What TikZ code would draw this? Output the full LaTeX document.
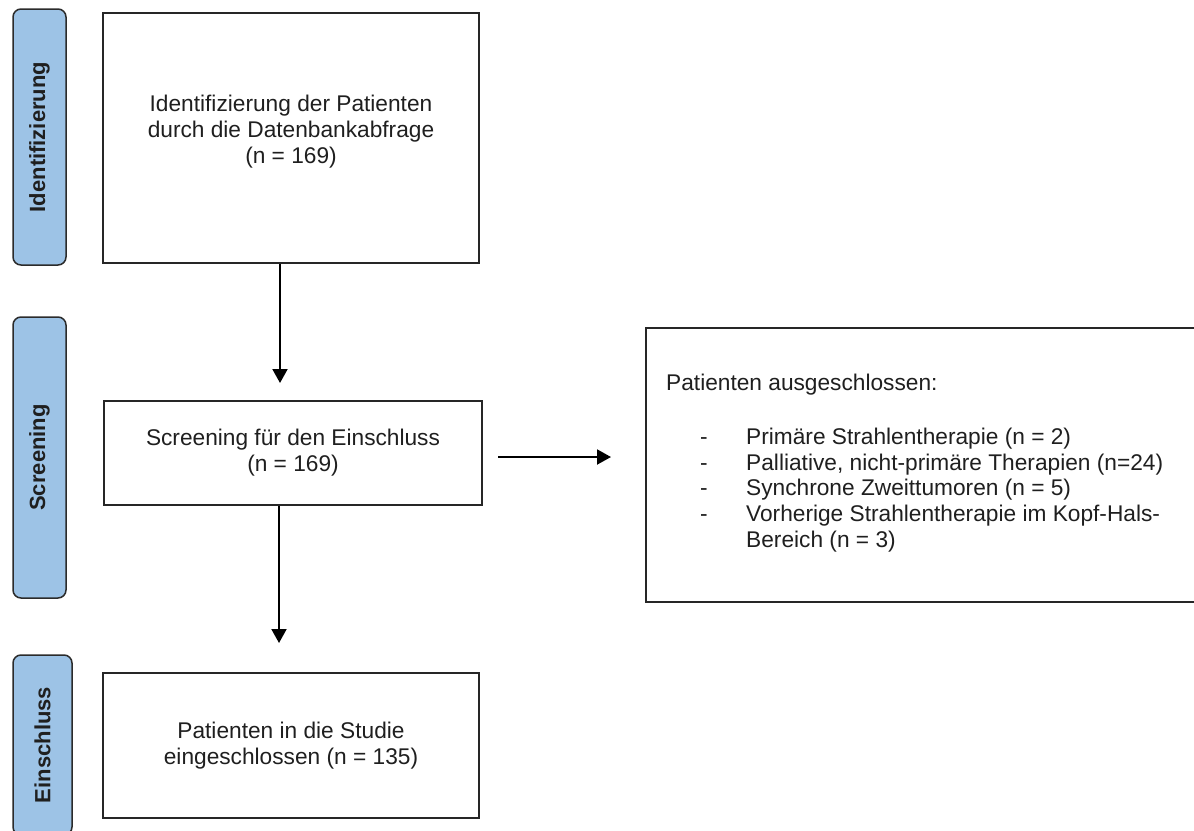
\documentclass[tikz,border=0pt]{standalone}
\usepackage{fontspec}
\setmainfont{Liberation Sans}
\usetikzlibrary{arrows.meta}
\definecolor{barfill}{HTML}{9DC3E6}
\definecolor{barline}{HTML}{2B2B2B}
\definecolor{boxline}{HTML}{262626}
\definecolor{txt}{HTML}{1F1F1F}
\begin{document}
\begin{tikzpicture}[x=1pt,y=-1pt,
  every node/.style={text=txt},
  mainfont/.style={font=\fontsize{22.7pt}{26pt}\selectfont},
  mainbox/.style={draw=boxline, line width=2pt, rectangle, inner sep=0pt, align=center, mainfont},
  sidebar/.style={draw=barline, fill=barfill, line width=1.5pt, rounded corners=8pt, inner sep=0pt,
    rotate=90, font=\fontsize{22pt}{26pt}\selectfont\bfseries},
  flow/.style={draw=black, line width=2pt, -{Triangle[length=14pt,width=15pt]}},
  itemtxt/.style={mainfont, inner sep=0pt, anchor=base west},
  dashtxt/.style={mainfont, inner sep=0pt, anchor=base},
]
\useasboundingbox (0,0) rectangle (1194,830);
\clip (0,0) rectangle (1194,830);

% side bars
\node[sidebar, minimum width=256pt, minimum height=53pt] (s1) at (39.5,137) {Identifizierung};
\node[sidebar, minimum width=281pt, minimum height=53pt] (s2) at (39.5,457.5) {Screening};
\node[sidebar, minimum width=180pt, minimum height=59pt] (s3) at (42.5,745) {Einschluss};

% main boxes
\node[mainbox, minimum width=376pt, minimum height=250pt] (b1) at (291,138) {};
\node[mainfont, align=center, inner sep=0pt] (b1t) at (291,132)
  {Identifizierung der Patienten\\durch die Datenbankabfrage\\(n = 169)};
\node[mainbox, minimum width=378pt, minimum height=104pt] (b2) at (293,453)
  {Screening für den Einschluss\\(n = 169)};
\node[mainbox, minimum width=376pt, minimum height=145pt] (b3) at (291,745.5)
  {Patienten in die Studie\\eingeschlossen (n = 135)};

% exclusion box
\node[mainbox, minimum width=568pt, minimum height=274pt] (ex) at (930,465) {};
\node[itemtxt] (t0) at (666,390) {Patienten ausgeschlossen:};
\node[dashtxt] (d1) at (704,444) {-};
\node[dashtxt] (d2) at (704,470) {-};
\node[dashtxt] (d3) at (704,495) {-};
\node[dashtxt] (d4) at (704,521) {-};
\node[itemtxt] (i1) at (746,444) {Primäre Strahlentherapie (n = 2)};
\node[itemtxt] (i2) at (746,470) {Palliative, nicht-primäre Therapien (n=24)};
\node[itemtxt] (i3) at (746,495) {Synchrone Zweittumoren (n = 5)};
\node[itemtxt] (i4) at (746,521) {Vorherige Strahlentherapie im Kopf-Hals-};
\node[itemtxt] (i4b) at (746,547) {Bereich (n = 3)};

% connectors
\coordinate (e1) at (280,383);
\coordinate (e2) at (279,643);
\coordinate (s3a) at (498,457);
\coordinate (e3) at (611,457);
\draw[flow] (b1.south -| e1) -- (e1);
\draw[flow] (b2.south -| e2) -- (e2);
\draw[flow] (s3a) -- (e3);
\end{tikzpicture}
\end{document}
